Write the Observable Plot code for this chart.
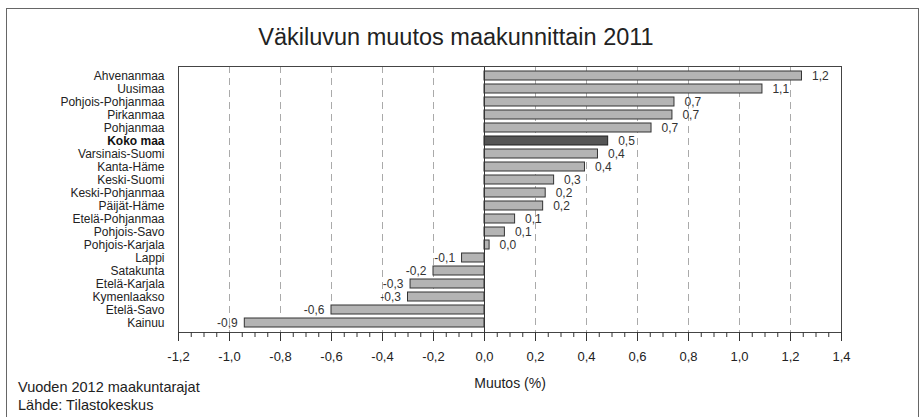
<!DOCTYPE html>
<html>
<head>
<meta charset="utf-8">
<script src="https://cdn.jsdelivr.net/npm/d3@7"></script>
<script src="https://cdn.jsdelivr.net/npm/@observablehq/plot@0.6"></script>
<style>
  html, body { margin: 0; padding: 0; background: #fff; }
  body { font-family: "Liberation Sans", Arial, sans-serif; color: #222; }
  #wrap { position: relative; width: 922px; height: 417px; overflow: hidden; }
  #border { position: absolute; left: 6px; top: 8px; width: 913px; height: 430px; border: 1px solid #666; box-sizing: border-box; }
  #title { position: absolute; left: -5px; top: 24px; width: 922px; text-align: center; font-size: 23.5px; color: #222; }
  #chart { position: absolute; left: 0; top: 0; }
  #foot { position: absolute; left: 18px; top: 378px; font-size: 14.5px; line-height: 18px; color: #222; }
</style>
</head>
<body>
<div id="wrap">
  <div id="border"></div>
  <div id="chart"></div>
  <div id="title">Väkiluvun muutos maakunnittain 2011</div>
  <div id="foot">Vuoden 2012 maakuntarajat<br>Lähde: Tilastokeskus</div>
</div>
<script>
const categories = ["Ahvenanmaa","Uusimaa","Pohjois-Pohjanmaa","Pirkanmaa","Pohjanmaa","Koko maa","Varsinais-Suomi","Kanta-Häme","Keski-Suomi","Keski-Pohjanmaa","Päijät-Häme","Etelä-Pohjanmaa","Pohjois-Savo","Pohjois-Karjala","Lappi","Satakunta","Etelä-Karjala","Kymenlaakso","Etelä-Savo","Kainuu"];
const values = [1.245, 1.09, 0.745, 0.737, 0.655, 0.485, 0.445, 0.394, 0.273, 0.24, 0.23, 0.12, 0.08, 0.02, -0.088, -0.20, -0.29, -0.30, -0.60, -0.94];
const totalName = "Koko maa";
const xLabel = "Muutos (%)";
const majorTicks = [-1.2,-1.0,-0.8,-0.6,-0.4,-0.2,0,0.2,0.4,0.6,0.8,1.0,1.2,1.4];
const gridTicks = [-1.0,-0.8,-0.6,-0.4,-0.2,0.2,0.4,0.6,0.8,1.0,1.2];
const minorTicks = d3.range(-24, 29).map(i => i * 0.05);

const data = categories.map((name, i) => ({name, value: values[i]}));
const comma = v => (v < 0 ? "-" : "") + Math.abs(v).toFixed(1).replace(".", ",");
const isTotal = d => d.name === totalName;

const chart = Plot.plot({
  width: 922,
  height: 417,
  marginLeft: 178,
  marginRight: 81,
  marginTop: 66,
  marginBottom: 85,
  style: {fontFamily: "Liberation Sans, Arial, sans-serif", fontSize: "13px", color: "#222", background: "transparent"},
  x: {domain: [-1.2, 1.4]},
  y: {domain: categories, padding: 0.28, axis: null},
  marks: [
    Plot.gridX(gridTicks, {stroke: "#aaa", strokeOpacity: 1, strokeDasharray: "7,5"}),
    Plot.barX(data.filter(d => !isTotal(d)), {x: "value", y: "name", fill: "#b4b4b4", stroke: "#333", strokeWidth: 1}),
    Plot.barX(data.filter(isTotal), {x: "value", y: "name", fill: "#555", stroke: "#222", strokeWidth: 1}),
    Plot.ruleX([0], {stroke: "#333"}),
    Plot.frame({stroke: "#444"}),
    Plot.axisX({ticks: minorTicks, tickSize: 5, tickFormat: () => "", label: null, stroke: "#333"}),
    Plot.axisX({ticks: majorTicks, tickSize: 9, tickPadding: 10, tickFormat: comma, fontSize: 13, label: null, stroke: "#333"}),
    Plot.text([xLabel], {frameAnchor: "bottom", dy: 55, fontSize: 14, fill: "#222"}),
    Plot.text(data.filter(d => d.value >= 0), {x: "value", y: "name", text: d => comma(d.value), textAnchor: "start", dx: 10, fontSize: 12, fill: "#333"}),
    Plot.text(data.filter(d => d.value < 0), {x: "value", y: "name", text: d => comma(d.value), textAnchor: "end", dx: -7, fontSize: 12, fill: "#333"}),
    Plot.text(categories.filter(c => c !== totalName), {y: d => d, frameAnchor: "left", textAnchor: "end", dx: -14, fontSize: 12, fill: "#222"}),
    Plot.text(categories.filter(c => c === totalName), {y: d => d, frameAnchor: "left", textAnchor: "end", dx: -14, fontSize: 12, fontWeight: "bold", fill: "#111"})
  ]
});
document.getElementById("chart").appendChild(chart);
</script>
</body>
</html>
